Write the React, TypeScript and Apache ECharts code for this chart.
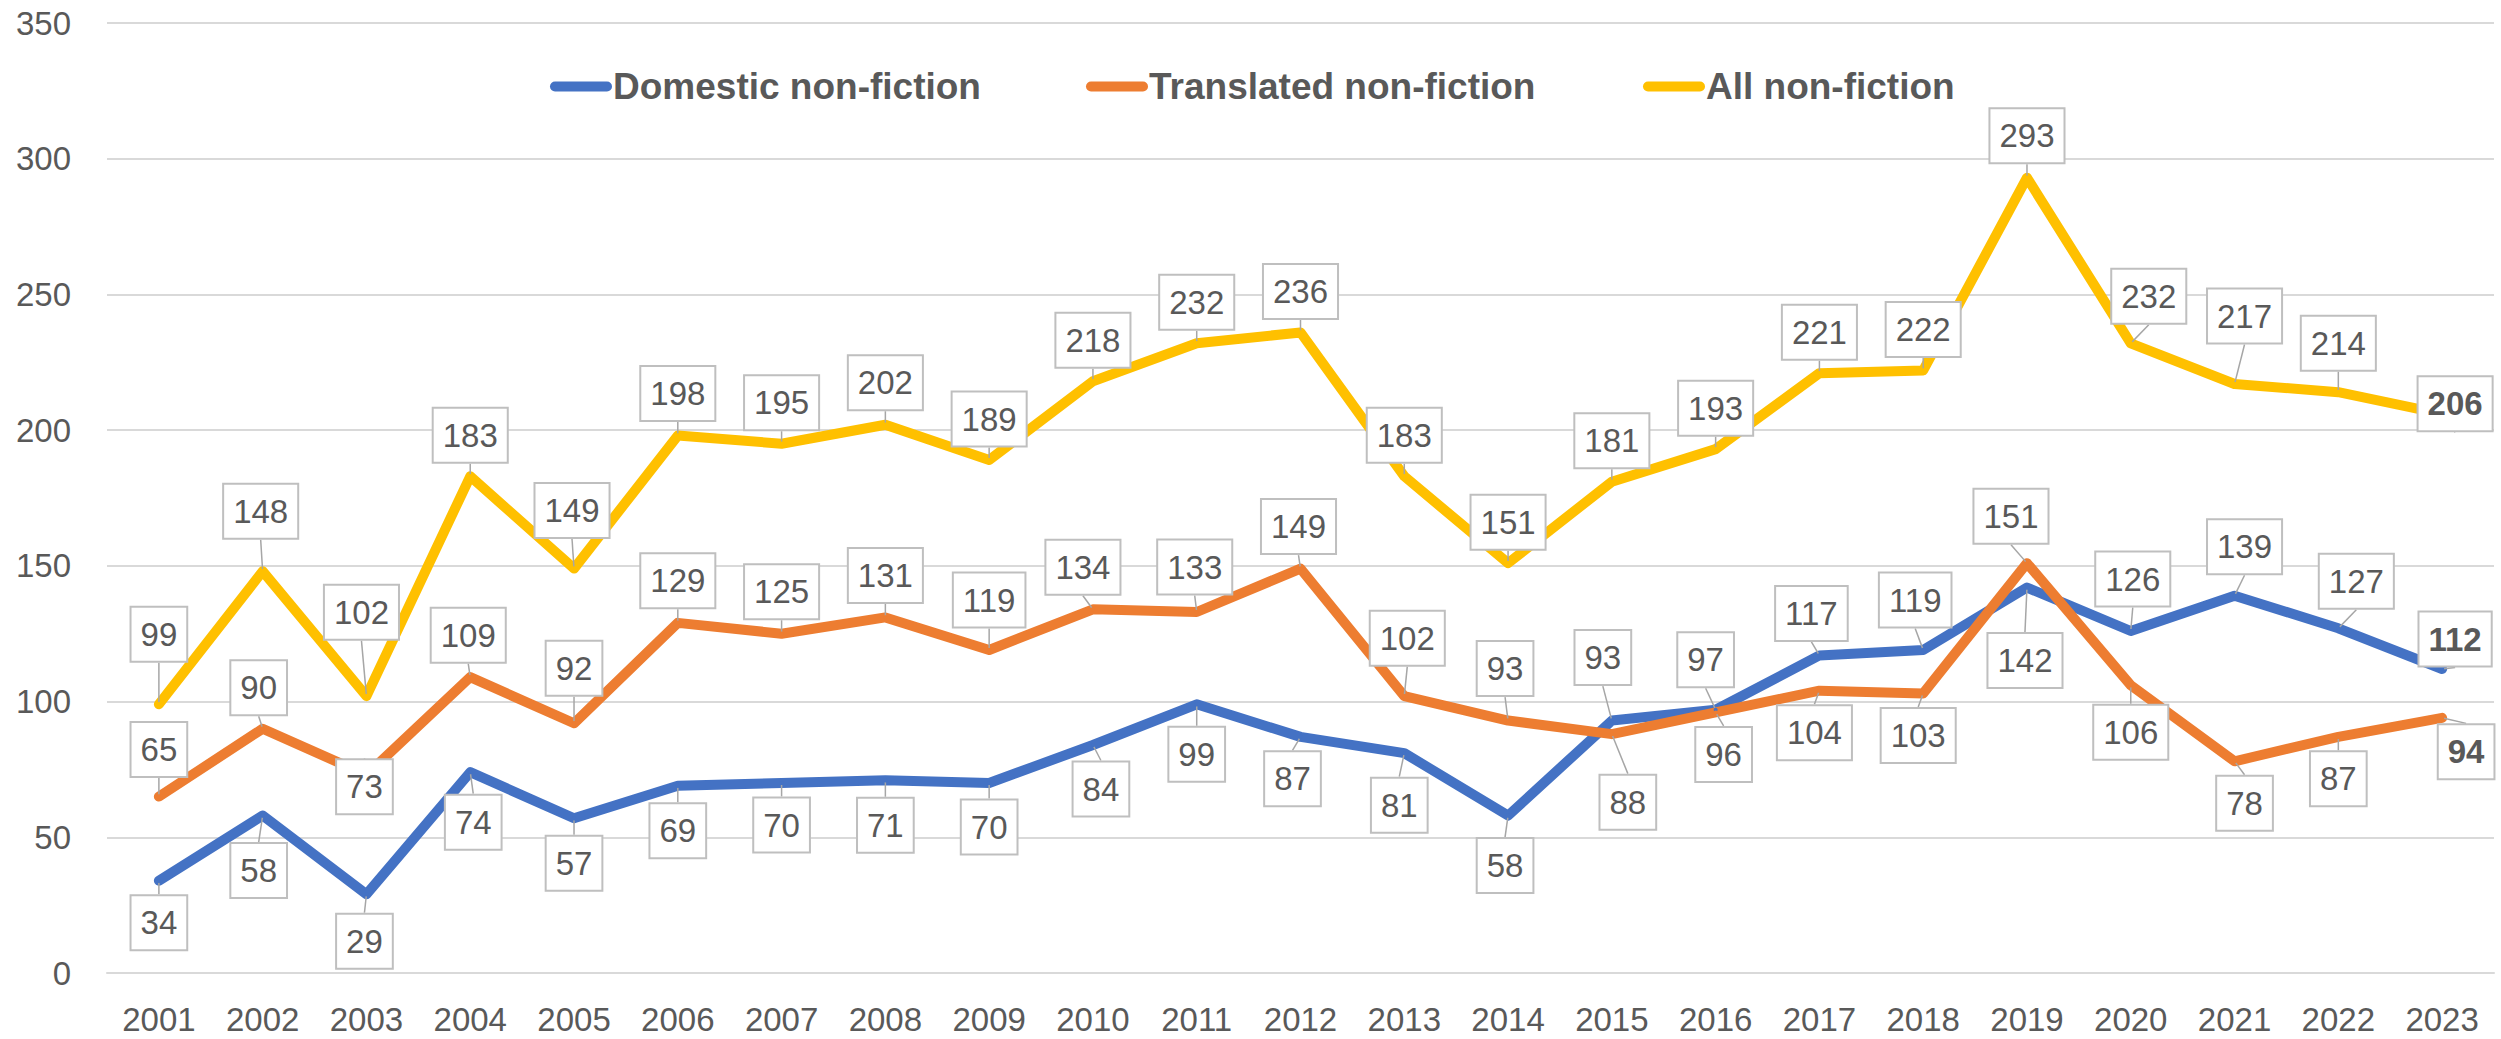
import React, { useEffect, useRef } from "react";
import * as echarts from "echarts";

const years = ["2001","2002","2003","2004","2005","2006","2007","2008","2009","2010","2011","2012","2013","2014","2015","2016","2017","2018","2019","2020","2021","2022","2023"];
const domestic = [34,58,29,74,57,69,70,71,70,84,99,87,81,58,93,97,117,119,142,126,139,127,112];
const translated = [65,90,73,109,92,129,125,131,119,134,133,149,102,93,88,96,104,103,151,106,78,87,94];
const allNonFiction = [99,148,102,183,149,198,195,202,189,218,232,236,183,151,181,193,221,222,293,232,217,214,206];
const seriesNames = ["Domestic non-fiction", "Translated non-fiction", "All non-fiction"];
const seriesColors = ["#4472C4", "#ED7D31", "#FFC000"];
const yTicks = { min: 0, max: 350, interval: 50 };

// label placement offsets (px) relative to each point, as in the reference
const domesticLabelOffsets = [[0,42],[-4,55],[-2,47],[3,50],[0,45],[0,45],[0,42],[0,45],[0,44],[8,44],[0,50],[-8,42],[-5,52],[-3,50],[-9,-63],[-10,-50],[-8,-42],[-8,-50],[-2,73],[2,-52],[10,-49],[18,-47],[13,-30]];
const translatedLabelOffsets = [[0,-47],[-4,-41],[-2,12],[-2,-42],[0,-55],[0,-42],[0,-42],[0,-42],[0,-50],[-10,-42],[-2,-45],[-2,-42],[3,-58],[-3,-52],[16,68],[8,42],[-5,42],[-5,42],[-16,-47],[0,47],[10,42],[0,42],[24,34]];
const allLabelOffsets = [[0,-70],[-2,-60],[-5,-84],[0,-41],[-2,-58],[0,-42],[0,-41],[0,-42],[0,-41],[0,-41],[0,-41],[0,-41],[0,-41],[0,-41],[0,-41],[0,-41],[0,-41],[0,-41],[0,-42],[18,-47],[10,-68],[0,-49],[13,-10]];

const FONT = "'Liberation Sans', Arial, sans-serif";
const TEXT_COLOR = "#595959";

function buildSeries(name: string, values: number[], color: string, offsets: number[][]) {
  const last = values.length - 1;
  return {
    name,
    type: "line",
    data: values.map((v, i) => (i === last ? { value: v, label: { fontWeight: "bold" } } : v)),
    symbol: "circle",
    symbolSize: 4,
    showSymbol: true,
    lineStyle: { color, width: 10, cap: "round", join: "round" },
    itemStyle: { color },
    label: {
      show: true,
      position: "inside",
      fontFamily: FONT,
      fontSize: 33,
      lineHeight: 33,
      color: TEXT_COLOR,
      backgroundColor: "#FFFFFF",
      borderColor: "#BFBFBF",
      borderWidth: 2,
      padding: [10, 9, 10, 9],
    },
    labelLine: { show: true, length2: 0, lineStyle: { color: "#A6A6A6", width: 1.5 } },
    labelLayout: (p: any) => ({ dx: offsets[p.dataIndex][0], dy: offsets[p.dataIndex][1] }),
    emphasis: { disabled: true },
  };
}

const legendCommon = {
  top: 68,
  padding: 0,
  itemWidth: 62,
  itemHeight: 11,
  itemGap: 0,
  icon: "path://M5,0 H57 A5,5 0 0 1 57,10 H5 A5,5 0 0 1 5,0 Z",
  textStyle: { fontFamily: FONT, fontSize: 37, fontWeight: "bold", color: TEXT_COLOR, padding: [0, 0, 0, -4] },
};

export default function App() {
  const ref = useRef<HTMLDivElement>(null);
  useEffect(() => {
    if (!ref.current) return;
    const chart = echarts.init(ref.current, null, { renderer: "svg" });
    chart.setOption({
      animation: false,
      backgroundColor: "#FFFFFF",
      textStyle: { fontFamily: FONT },
      grid: { left: 107, right: 7, top: 23, bottom: 66, containLabel: false },
      legend: [
        { ...legendCommon, data: [seriesNames[0]], left: 550 },
        { ...legendCommon, data: [seriesNames[1]], left: 1086 },
        { ...legendCommon, data: [seriesNames[2]], left: 1643 },
      ],
      xAxis: {
        type: "category",
        data: years,
        boundaryGap: true,
        axisLine: { show: true, lineStyle: { color: "#D9D9D9", width: 2 } },
        axisTick: { show: false },
        axisLabel: { fontFamily: FONT, fontSize: 33, color: TEXT_COLOR, margin: 30, interval: 0 },
      },
      yAxis: {
        type: "value",
        min: yTicks.min,
        max: yTicks.max,
        interval: yTicks.interval,
        axisLine: { show: false },
        axisTick: { show: false },
        splitLine: { lineStyle: { color: "#D9D9D9", width: 2 } },
        axisLabel: { fontFamily: FONT, fontSize: 33, color: TEXT_COLOR, margin: 36 },
      },
      series: [
        buildSeries(seriesNames[0], domestic, seriesColors[0], domesticLabelOffsets),
        buildSeries(seriesNames[1], translated, seriesColors[1], translatedLabelOffsets),
        buildSeries(seriesNames[2], allNonFiction, seriesColors[2], allLabelOffsets),
      ],
    });
    return () => chart.dispose();
  }, []);
  return (
    <div
      ref={ref}
      style={{ position: "fixed", left: 0, top: 0, width: 2501, height: 1039, background: "#FFFFFF" }}
    />
  );
}
